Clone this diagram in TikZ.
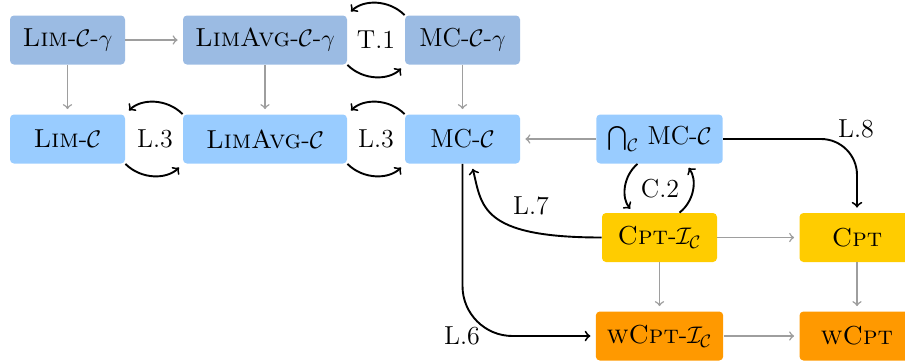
\documentclass[tikz,border=0pt]{standalone}
\usepackage{amsmath}
\definecolor{rowone}{RGB}{155,187,227}
\definecolor{rowtwo}{RGB}{153,204,255}
\definecolor{cptyel}{RGB}{255,204,0}
\definecolor{cptora}{RGB}{255,153,0}
\tikzset{
  box/.style={rectangle, rounded corners=2pt, minimum width=57.5pt, minimum height=24.5pt, inner xsep=5.5pt, font=\fontsize{13}{15}\selectfont},
  widebox/.style={minimum width=82pt},
  rowa/.style={box, fill=rowone},
  rowb/.style={box, fill=rowtwo},
  rowc/.style={box, fill=cptyel},
  rowd/.style={box, fill=cptora},
  garr/.style={->, draw=black!38, line width=0.75pt, shorten >=2.5pt},
  barr/.style={->, line width=0.95pt, shorten >=2.5pt},
  lab/.style={font=\fontsize{13}{15}\selectfont, inner sep=1pt}
}
\begin{document}
\begin{tikzpicture}[x=0.5pt, y=-0.5pt]
\useasboundingbox (0,0) rectangle (905,360);
% row 1
\node[rowa] (lcg)  at (67.5,40)  {\textsc{Lim}-$\mathcal{C}$-$\gamma$};
\node[rowa, widebox] (lacg) at (265,40)   {\textsc{LimAvg}-$\mathcal{C}$-$\gamma$};
\node[rowa] (mcg)  at (462.5,40) {MC-$\mathcal{C}$-$\gamma$};
% row 2
\node[rowb] (lc)   at (67.5,139)  {\textsc{Lim}-$\mathcal{C}$};
\node[rowb, widebox] (lac)  at (265,139)   {\textsc{LimAvg}-$\mathcal{C}$};
\node[rowb] (mc)   at (462.5,139) {MC-$\mathcal{C}$};
\node[rowb] (cap)  at (659.5,139) {$\bigcap_{\mathcal{C}}$ MC-$\mathcal{C}$};
% row 3
\node[rowc] (cpti) at (659.5,237.5) {\textsc{Cpt}-$\mathcal{I}_{\mathcal{C}}$};
\node[rowc] (cpt)  at (857,237.5)   {\textsc{Cpt}};
% row 4
\node[rowd] (wcpti) at (659.5,336) {\textsc{wCpt}-$\mathcal{I}_{\mathcal{C}}$};
\node[rowd] (wcpt)  at (857,336)   {\textsc{wCpt}};
% gray arrows
\draw[garr] (lcg) -- (lacg);
\draw[garr] (lcg) -- (lc);
\draw[garr] (lacg) -- (lac);
\draw[garr] (mcg) -- (mc);
\draw[garr] (cap) -- (mc);
\draw[garr] (cpti) -- (cpt);
\draw[garr] (cpti) -- (wcpti);
\draw[garr] (cpt) -- (wcpt);
\draw[garr] (wcpti) -- (wcpt);
% black curved arrows
\draw[barr] (mcg.north west) to[bend right=45] (lacg.north east);
\draw[barr] (lacg.south east) to[bend right=45] (mcg.south west);
\draw[barr] (lac.north west) to[bend right=45] (lc.north east);
\draw[barr] (lc.south east) to[bend right=45] (lac.south west);
\draw[barr] (mc.north west) to[bend right=45] (lac.north east);
\draw[barr] (lac.south east) to[bend right=45] (mc.south west);
\draw[barr] ([xshift=-11pt]cap.south) to[bend right=45] ([xshift=-13pt]cpti.north);
\draw[barr] ([xshift=10pt]cpti.north) to[bend right=45] ([xshift=13pt]cap.south);
\draw[barr, rounded corners=18pt] (cap.east) -| (cpt.north);
\draw[barr, rounded corners=25pt] (mc.south) |- (wcpti.west);
\draw[barr] (cpti.west) .. controls +(-122,0) and +(10.5,42) .. ([xshift=4.5pt]mc.south);
% labels
\node[lab] (t1)  at (376,40)  {T.1};
\node[lab] (l3a) at (155,139) {L.3};
\node[lab] (l3b) at (376,139) {L.3};
\node[lab] (c2)  at (660,189) {C.2};
\node[lab] (l8)  at (856,129) {L.8};
\node[lab] (l7)  at (531,206) {L.7};
\node[lab] (l6)  at (462,336) {L.6};
\end{tikzpicture}
\end{document}
